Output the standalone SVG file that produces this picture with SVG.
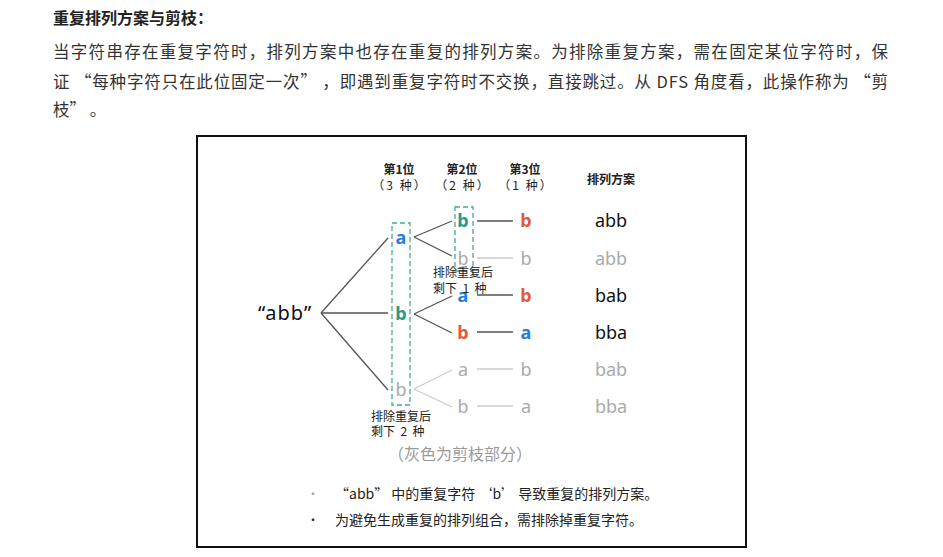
<svg xmlns="http://www.w3.org/2000/svg" width="943" height="557" viewBox="0 0 943 557">
<style>
.cn{font-family:"Noto Sans CJK SC","Noto Sans",sans-serif;}
.lat{font-family:"Noto Sans","Noto Sans CJK SC",sans-serif;}
.h{font-size:16px;font-weight:bold;fill:#222;}
.p{font-size:16.5px;fill:#333;}
.col{font-size:12px;fill:#222;letter-spacing:2px;}
.colb{font-size:12px;font-weight:bold;fill:#222;}
.lv{font-size:18px;font-weight:bold;text-anchor:middle;}
.lg{font-size:18px;text-anchor:middle;fill:#aaa;}
.res{font-size:18px;text-anchor:middle;fill:#111;}
.resg{font-size:18px;text-anchor:middle;fill:#aaa;}
.blue{fill:#1e7fe0;}
.teal{fill:#2a9a88;}
.red{fill:#e05a3c;}
.ln{stroke:#555;stroke-width:1.3;fill:none;}
.lng{stroke:#ccc;stroke-width:1.3;fill:none;}
.dash{stroke:#4aa898;stroke-width:1.3;stroke-dasharray:5,3;fill:none;}
.note{font-size:12px;fill:#222;}
.bul{font-size:14px;fill:#222;}
</style>
<rect width="943" height="557" fill="#fff"/>
<g id="intro">
<text class="cn h" x="53" y="24">重复排列方案与剪枝：</text>
<text class="cn p" x="53" y="58" textLength="835" lengthAdjust="spacing">当字符串存在重复字符时，排列方案中也存在重复的排列方案。为排除重复方案，需在固定某位字符时，保</text>
<text class="cn p" x="53" y="88" textLength="835" lengthAdjust="spacing">证 “每种字符只在此位固定一次” ，即遇到重复字符时不交换，直接跳过。从 DFS 角度看，此操作称为 “剪</text>
<text class="cn p" x="53" y="116">枝” 。</text>
</g>
<rect x="197" y="136" width="549" height="411" fill="#fff" stroke="#111" stroke-width="2"/>
<g id="headers" text-anchor="middle">
<text class="cn colb" x="399" y="174">第1位</text>
<text class="cn col" x="400" y="190">（3 种）</text>
<text class="cn colb" x="462" y="174">第2位</text>
<text class="cn col" x="463" y="190">（2 种）</text>
<text class="cn colb" x="525" y="174">第3位</text>
<text class="cn col" x="526" y="190">（1 种）</text>
<text class="cn colb" x="611" y="184">排列方案</text>
</g>
<g id="connectors">
<line class="ln" x1="321" y1="313" x2="388" y2="238"/>
<line class="ln" x1="321" y1="313" x2="388" y2="313"/>
<line class="ln" x1="321" y1="313" x2="388" y2="390"/>
<line class="ln" x1="414" y1="237" x2="452" y2="221"/>
<line class="ln" x1="414" y1="237" x2="452" y2="256"/>
<line class="ln" x1="414" y1="314" x2="452" y2="296"/>
<line class="ln" x1="414" y1="314" x2="452" y2="333"/>
<line class="lng" x1="414" y1="389" x2="452" y2="370"/>
<line class="lng" x1="414" y1="389" x2="452" y2="407"/>
<line class="ln" x1="477" y1="221" x2="513" y2="221"/>
<line class="lng" x1="477" y1="258" x2="513" y2="258"/>
<line class="ln" x1="477" y1="295" x2="513" y2="295"/>
<line class="ln" x1="477" y1="332" x2="513" y2="332"/>
<line class="lng" x1="477" y1="369" x2="513" y2="369"/>
<line class="lng" x1="477" y1="406" x2="513" y2="406"/>
</g>
<g id="groups">
<rect class="dash" x="392" y="223" width="18" height="182"/>
<rect class="dash" x="455" y="207" width="18" height="64"/>
</g>
<g id="root"><text class="lat" x="285" y="320" font-size="20" text-anchor="middle" fill="#111" letter-spacing="1">“abb”</text></g>
<g id="l1-a"><text class="lat lv blue" x="401" y="244">a</text></g>
<g id="l1-b"><text class="lat lv teal" x="401" y="320">b</text></g>
<g id="l1-bg"><text class="lat lg" x="401" y="396">b</text></g>
<g id="l2-ab"><text class="lat lv teal" x="463" y="227">b</text></g>
<g id="l2-abg"><text class="lat lg" x="463" y="265">b</text></g>
<g id="l2-ba"><text class="lat lv blue" x="463" y="302">a</text></g>
<g id="l2-bb"><text class="lat lv red" x="463" y="339">b</text></g>
<g id="l2-ga"><text class="lat lg" x="463" y="376">a</text></g>
<g id="l2-gb"><text class="lat lg" x="463" y="413">b</text></g>
<g id="l3-1"><text class="lat lv red" x="526" y="227">b</text></g>
<g id="l3-2"><text class="lat lg" x="526" y="265">b</text></g>
<g id="l3-3"><text class="lat lv red" x="526" y="302">b</text></g>
<g id="l3-4"><text class="lat lv blue" x="526" y="339">a</text></g>
<g id="l3-5"><text class="lat lg" x="526" y="376">b</text></g>
<g id="l3-6"><text class="lat lg" x="526" y="413">a</text></g>
<g id="results">
<text class="lat res" x="611" y="227">abb</text>
<text class="lat resg" x="611" y="265">abb</text>
<text class="lat res" x="611" y="302">bab</text>
<text class="lat res" x="611" y="339">bba</text>
<text class="lat resg" x="611" y="376">bab</text>
<text class="lat resg" x="611" y="413">bba</text>
</g>
<g id="notes">
<text class="cn note" x="433" y="277">排除重复后</text>
<text class="cn note" x="433" y="293" xml:space="preserve">剩下  1  种</text>
<text class="cn note" x="371" y="421">排除重复后</text>
<text class="cn note" x="371" y="436" xml:space="preserve">剩下  2  种</text>
<text class="cn" x="460" y="460" font-size="16" fill="#999" text-anchor="middle">（灰色为剪枝部分）</text>
</g>
<g id="bullets">
<text class="cn" x="313" y="499" font-size="12" fill="#999" text-anchor="middle">•</text>
<text class="cn bul" x="335" y="499">“abb” 中的重复字符 ‘b’ 导致重复的排列方案。</text>
<text class="cn" x="313" y="525" font-size="12" fill="#222" text-anchor="middle">•</text>
<text class="cn bul" x="335" y="525">为避免生成重复的排列组合，需排除掉重复字符。</text>
</g>
</svg>
